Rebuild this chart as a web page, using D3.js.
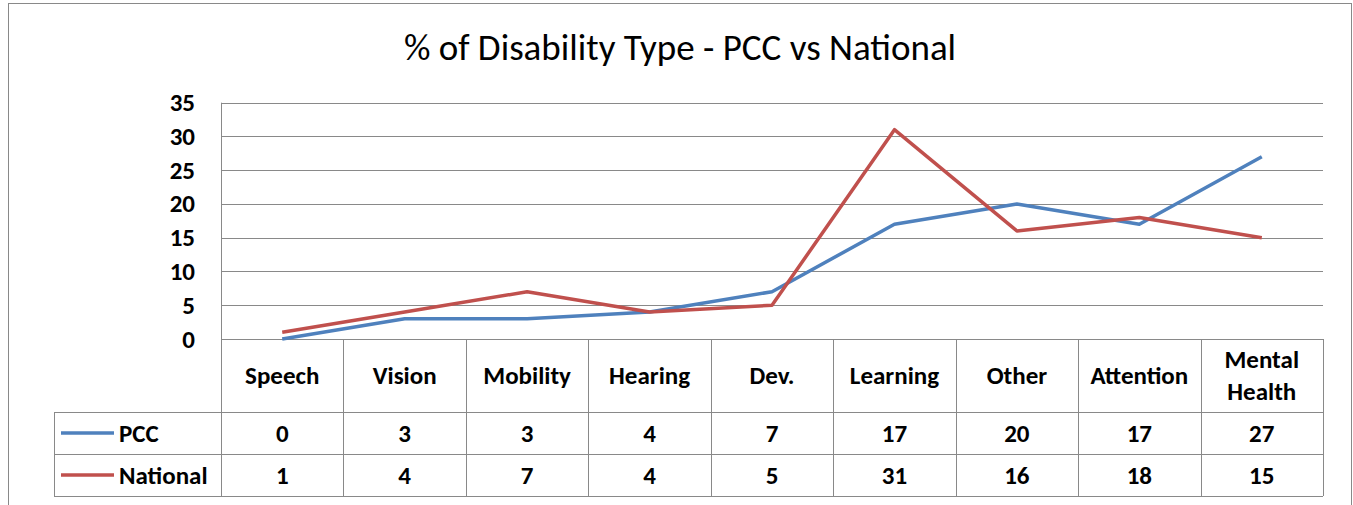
<!DOCTYPE html>
<html>
<head>
<meta charset="utf-8">
<script src="https://cdn.jsdelivr.net/npm/d3@7"></script>
<style>
  body { margin: 0; background: #fff; }
  svg { font-family: Carlito, Lato, "Liberation Sans", sans-serif; }
</style>
</head>
<body>
<svg id="chart"></svg>
<script>
const categories = ["Speech", "Vision", "Mobility", "Hearing", "Dev.", "Learning", "Other", "Attention", "Mental Health"];
const pcc = [0, 3, 3, 4, 7, 17, 20, 17, 27];
const national = [1, 4, 7, 4, 5, 31, 16, 18, 15];
const yTicks = [0, 5, 10, 15, 20, 25, 30, 35];

const series = [
  {name: "PCC", values: pcc, color: "#4F81BD"},
  {name: "National", values: national, color: "#C0504D"}
];

const width = 1353, height = 505;
const plot = {left: 221, right: 1323, top: 102.7, bottom: 339};
const tableLeft = 54;
const headerBottom = 412, rowH = 42;
const gridColor = "#898989";
const labelSize = 25;

const svg = d3.select('#chart').attr('width', width).attr('height', height);

// outer chart border
svg.append('rect')
  .attr('x', 8.5).attr('y', 3.5)
  .attr('width', 1343).attr('height', 520)
  .attr('fill', 'none').attr('stroke', gridColor).attr('stroke-width', 1);

svg.append('text')
  .attr('x', 680).attr('y', 60)
  .attr('text-anchor', 'middle')
  .attr('font-size', 37)
  .text('% of Disability Type - PCC vs National');

const x = d3.scaleBand().domain(categories).range([plot.left, plot.right]);
const y = d3.scaleLinear().domain([0, 35]).range([plot.bottom, plot.top]);

// gridlines
svg.append('g').selectAll('line')
  .data(yTicks)
  .join('line')
  .attr('x1', plot.left).attr('x2', plot.right)
  .attr('y1', d => Math.round(y(d)) + 0.5).attr('y2', d => Math.round(y(d)) + 0.5)
  .attr('stroke', gridColor);

// y axis
const axisLeft = d3.axisLeft(y).tickValues(yTicks).tickSize(0).tickPadding(26);
const gy = svg.append('g').attr('transform', `translate(${plot.left},0)`).call(axisLeft);
gy.select('.domain').remove();
gy.selectAll('text')
  .attr('font-size', labelSize).attr('font-weight', 'bold').attr('fill', '#000')
  .attr('font-family', 'Carlito, Lato, "Liberation Sans", sans-serif');

// data table grid
const tableBottom = headerBottom + rowH * 2;
svg.append('line')
  .attr('x1', plot.left + 0.5).attr('x2', plot.left + 0.5)
  .attr('y1', plot.top).attr('y2', tableBottom)
  .attr('stroke', gridColor);
svg.append('g').selectAll('line')
  .data(categories)
  .join('line')
  .attr('x1', d => Math.round(x(d) + x.bandwidth()) + 0.5)
  .attr('x2', d => Math.round(x(d) + x.bandwidth()) + 0.5)
  .attr('y1', plot.bottom).attr('y2', tableBottom)
  .attr('stroke', gridColor);
[headerBottom, headerBottom + rowH, tableBottom].forEach(yy => {
  svg.append('line')
    .attr('x1', tableLeft).attr('x2', plot.right)
    .attr('y1', yy + 0.5).attr('y2', yy + 0.5)
    .attr('stroke', gridColor);
});
svg.append('line')
  .attr('x1', tableLeft + 0.5).attr('x2', tableLeft + 0.5)
  .attr('y1', headerBottom).attr('y2', tableBottom)
  .attr('stroke', gridColor);

// header labels
const header = svg.append('g').selectAll('text')
  .data(categories)
  .join('text')
  .attr('x', d => x(d) + x.bandwidth() / 2)
  .attr('text-anchor', 'middle')
  .attr('font-size', labelSize).attr('font-weight', 'bold');
header.each(function(d) {
  const words = d.split(' ');
  const el = d3.select(this);
  const cy = 384;
  words.forEach((w, i) => {
    el.append('tspan')
      .attr('x', x(d) + x.bandwidth() / 2)
      .attr('y', cy + (i - (words.length - 1) / 2) * 32)
      .text(w);
  });
});

// series rows
series.forEach((s, si) => {
  const rowMid = headerBottom + rowH * si + rowH / 2;
  svg.append('line')
    .attr('x1', 61).attr('x2', 114)
    .attr('y1', rowMid).attr('y2', rowMid)
    .attr('stroke', s.color).attr('stroke-width', 3.5);
  svg.append('text')
    .attr('x', 119).attr('y', rowMid + 9)
    .attr('font-size', labelSize).attr('font-weight', 'bold')
    .text(s.name);
  svg.append('g').selectAll('text')
    .data(s.values)
    .join('text')
    .attr('x', (d, i) => x(categories[i]) + x.bandwidth() / 2)
    .attr('y', rowMid + 9)
    .attr('text-anchor', 'middle')
    .attr('font-size', labelSize).attr('font-weight', 'bold')
    .text(d => d);
});

// lines
const line = d3.line()
  .x((d, i) => x(categories[i]) + x.bandwidth() / 2)
  .y(d => y(d));
series.forEach(s => {
  svg.append('path')
    .datum(s.values)
    .attr('d', line)
    .attr('fill', 'none')
    .attr('stroke', s.color)
    .attr('stroke-width', 3.5)
    .attr('stroke-linejoin', 'round');
});
</script>
</body>
</html>
